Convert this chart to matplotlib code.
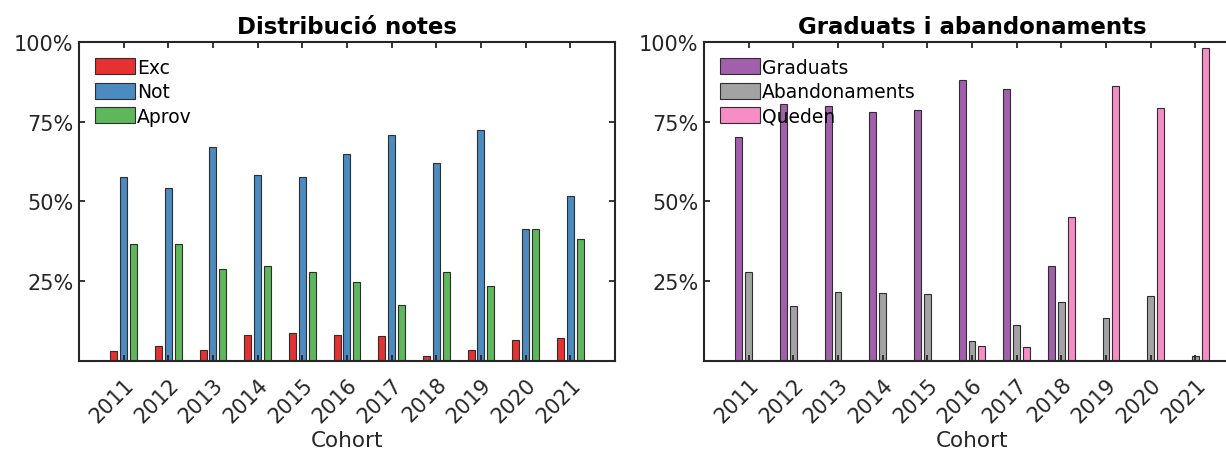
import numpy as np
import matplotlib
matplotlib.use('Agg')
from matplotlib import pyplot as plt
from matplotlib.ticker import FuncFormatter
from matplotlib.colors import to_rgba

plt.rcParams['font.family'] = ['DejaVu Sans']

# cohorts
cohorts = ['2011', '2012', '2013', '2014', '2015', '2016', '2017', '2018', '2019', '2020', '2021']

# distribucio notes (%)
exc = [3.3, 4.9, 3.4, 8.1, 8.7, 8.1, 7.8, 1.7, 3.6, 6.6, 7.4]
notable = [57.6, 54.3, 67.2, 58.2, 57.6, 64.7, 70.9, 62.1, 72.5, 41.3, 51.6]
aprov = [36.6, 36.6, 29.0, 29.7, 28.0, 24.8, 17.5, 28.0, 23.5, 41.3, 38.3]

# graduats i abandonaments (%)
graduats = [70.1, 80.6, 79.8, 78.1, 78.7, 88.1, 85.3, 29.9, 0, 0, 0]
abandonaments = [28.0, 17.3, 21.6, 21.5, 21.0, 6.5, 11.2, 18.7, 13.5, 20.5, 1.7]
queden = [0, 0, 0, 0, 0, 4.8, 4.6, 45.2, 86.1, 79.2, 97.9]

dark = '#262626'
edge = '#2e2e2e'


def face(c):
    # colours look like Set1 at 0.9 alpha
    return to_rgba(c, 0.9)


def draw(ax, series, labels, colors, title):
    x = np.arange(1, len(cohorts) + 1)
    offs = [-0.22, 0, 0.22]
    for s, lab, c, o in zip(series, labels, colors, offs):
        ax.bar(x + o, s, width=0.155, color=face(c), edgecolor=edge,
               linewidth=0.8, label=lab)
    ax.set_xlim(0, 12)
    ax.set_ylim(0, 100)
    ax.set_yticks([25, 50, 75, 100])
    ax.yaxis.set_major_formatter(FuncFormatter(lambda v, p: '%d%%' % v))
    ax.set_xticks(x)
    # top-right anchor puts the labels a little right of the tick
    ax.set_xticklabels(cohorts, rotation=45, ha='right', va='top',
                       rotation_mode='anchor')
    ax.tick_params(direction='in', length=4, width=1.3, color=dark,
                   labelcolor=dark, labelsize=15, top=True, right=True)
    ax.tick_params(axis='x', pad=9)
    ax.tick_params(axis='y', pad=4)
    for sp in ax.spines.values():
        sp.set_color(dark)
        sp.set_linewidth(1.5)
    ax.set_title(title, fontsize=16.5, fontweight='bold', pad=6)
    ax.set_xlabel('Cohort', fontsize=15.5, color=dark, labelpad=3)
    ax.legend(loc='upper left', frameon=False, fontsize=13.5,
              handlelength=2.15, handleheight=0.95, handletextpad=0.1,
              labelspacing=0.3, borderaxespad=0.45, borderpad=0.4)


fig = plt.figure(figsize=(12.26, 4.52), dpi=100)
ax1 = fig.add_axes([0.0644, 0.1985, 0.4372, 0.7071])
ax2 = fig.add_axes([0.5742, 0.1985, 0.4372, 0.7071])

draw(ax1, [exc, notable, aprov], ['Exc', 'Not', 'Aprov'],
     ['#E41A1C', '#377EB8', '#4DAF4A'], 'Distribució notes')
draw(ax2, [graduats, abandonaments, queden], ['Graduats', 'Abandonaments', 'Queden'],
     ['#984EA3', '#999999', '#F781BF'], 'Graduats i abandonaments')

fig.savefig('out.png', dpi=100)
